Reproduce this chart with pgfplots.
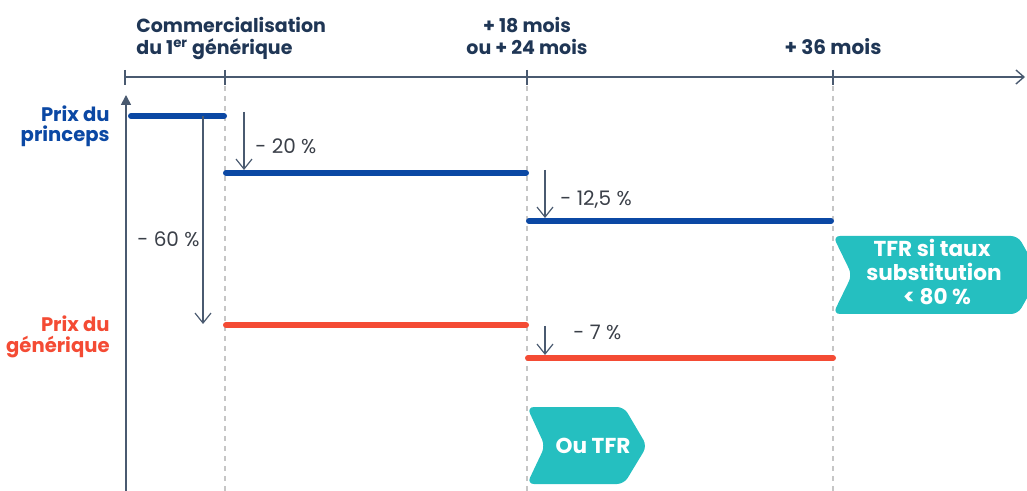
\documentclass[border=0pt]{standalone}
\usepackage{fontspec}
\setmainfont{Poppins}
\usepackage{pgfplots}
\pgfplotsset{compat=1.18}
\usetikzlibrary{arrows.meta}
\definecolor{navy}{HTML}{1F3655}
\definecolor{axisc}{HTML}{4A5A70}
\definecolor{pblue}{HTML}{0B48A4}
\definecolor{gred}{HTML}{F44B34}
\definecolor{tfr}{HTML}{25BFC0}
\definecolor{dgray}{HTML}{3A3F48}
\definecolor{lgray}{HTML}{C6C6C6}
\begin{document}
\begin{tikzpicture}
\begin{axis}[scale only axis, width=513.5pt, height=245.5pt,
  xmin=0, xmax=1027, ymin=0, ymax=491, y dir=reverse,
  hide axis, clip=false]
% dashed guides
\addplot[lgray, line width=0.6pt, dash pattern=on 2.5pt off 2.5pt] coordinates {(225,86) (225,491)};
\addplot[lgray, line width=0.6pt, dash pattern=on 2.5pt off 2.5pt] coordinates {(527,86) (527,491)};
\addplot[lgray, line width=0.6pt, dash pattern=on 2.5pt off 2.5pt] coordinates {(833,86) (833,491)};
% top time axis
\addplot[axisc, line width=0.7pt, -{Straight Barb[length=4pt,width=7pt]}] coordinates {(125,77) (1025,77)};
\addplot[axisc, line width=0.7pt] coordinates {(125,70) (125,85)};
\addplot[axisc, line width=0.7pt] coordinates {(225,70) (225,85)};
\addplot[axisc, line width=0.7pt] coordinates {(527,70) (527,85)};
\addplot[axisc, line width=0.7pt] coordinates {(833,70) (833,85)};
% vertical price axis
\addplot[axisc, line width=0.8pt, -{Triangle[length=5pt,width=5pt]}] coordinates {(126,495) (126,95)};
% teal chevrons
\fill[tfr, rounded corners=3.5pt] (axis cs:833,236) -- (axis cs:1018,236) -- (axis cs:1040,275) -- (axis cs:1018,314) -- (axis cs:833,314) -- (axis cs:852,275) -- cycle;
\fill[tfr, rounded corners=3.5pt] (axis cs:527,407) -- (axis cs:624,407) -- (axis cs:647,446) -- (axis cs:624,484) -- (axis cs:527,484) -- (axis cs:545,446) -- cycle;
% price levels
\addplot[pblue, line width=3pt, line cap=round] coordinates {(131,116) (224,116)};
\addplot[pblue, line width=3pt, line cap=round] coordinates {(226,173) (526,173)};
\addplot[pblue, line width=3pt, line cap=round] coordinates {(529,221) (831,221)};
\addplot[gred, line width=3pt, line cap=round] coordinates {(226,325) (526,325)};
\addplot[gred, line width=3pt, line cap=round] coordinates {(528,358) (833,358)};
% decrease arrows
\addplot[axisc, line width=0.6pt, -{Straight Barb[length=5pt,width=8pt]}] coordinates {(244,112) (244,170)};
\addplot[axisc, line width=0.6pt, -{Straight Barb[length=5pt,width=8pt]}] coordinates {(545,170) (545,218)};
\addplot[axisc, line width=0.6pt, -{Straight Barb[length=5pt,width=8pt]}] coordinates {(203,116) (203,324)};
\addplot[axisc, line width=0.6pt, -{Straight Barb[length=5pt,width=8pt]}] coordinates {(545,326) (545,355)};
% labels
\node[anchor=base west, font=\fontsize{10}{12}\selectfont, text=dgray, inner sep=0pt] at (axis cs:255,154) {- 20 \%};
\node[anchor=base west, font=\fontsize{10}{12}\selectfont, text=dgray, inner sep=0pt] at (axis cs:560,206) {- 12,5 \%};
\node[anchor=base west, font=\fontsize{10}{12}\selectfont, text=dgray, inner sep=0pt] at (axis cs:137,247) {- 60 \%};
\node[anchor=base west, font=\fontsize{10}{12}\selectfont, text=dgray, inner sep=0pt] at (axis cs:573,340) {- 7 \%};
% header
\node[anchor=base west, font=\bfseries\fontsize{9.5}{12}\selectfont, text=navy, inner sep=0pt] at (axis cs:136,33) {Commercialisation};
\node[anchor=base west, font=\bfseries\fontsize{9.5}{12}\selectfont, text=navy, inner sep=0pt] at (axis cs:136,55) {du 1\textsuperscript{er} générique};
\node[anchor=base, font=\bfseries\fontsize{9.5}{12}\selectfont, text=navy, inner sep=0pt] at (axis cs:527,33) {+ 18 mois};
\node[anchor=base, font=\bfseries\fontsize{9.5}{12}\selectfont, text=navy, inner sep=0pt] at (axis cs:527,55) {ou + 24 mois};
\node[anchor=base, font=\bfseries\fontsize{10}{12}\selectfont, text=navy, inner sep=0pt] at (axis cs:833,55) {+ 36 mois};
% series names
\node[anchor=base east, font=\bfseries\fontsize{9.8}{12}\selectfont, text=pblue, inner sep=0pt] at (axis cs:110,122) {Prix du};
\node[anchor=base east, font=\bfseries\fontsize{9.8}{12}\selectfont, text=pblue, inner sep=0pt] at (axis cs:110,142) {princeps};
\node[anchor=base east, font=\bfseries\fontsize{9.8}{12}\selectfont, text=gred, inner sep=0pt] at (axis cs:110,332) {Prix du};
\node[anchor=base east, font=\bfseries\fontsize{9.8}{12}\selectfont, text=gred, inner sep=0pt] at (axis cs:110,352) {générique};
% chevron texts
\node[anchor=base, font=\bfseries\fontsize{10.8}{12}\selectfont, text=white, inner sep=0pt] at (axis cs:932,257) {TFR si taux};
\node[anchor=base, font=\bfseries\fontsize{10.8}{12}\selectfont, text=white, inner sep=0pt] at (axis cs:934,281) {substitution};
\node[anchor=base, font=\bfseries\fontsize{10.8}{12}\selectfont, text=white, inner sep=0pt] at (axis cs:937,305) {< 80 \%};
\node[anchor=base, font=\bfseries\fontsize{10.8}{12}\selectfont, text=white, inner sep=0pt] at (axis cs:593,453) {Ou TFR};
\end{axis}
\pgfresetboundingbox
\path (0,0) rectangle (513.5pt,245.5pt);
\end{tikzpicture}
\end{document}
